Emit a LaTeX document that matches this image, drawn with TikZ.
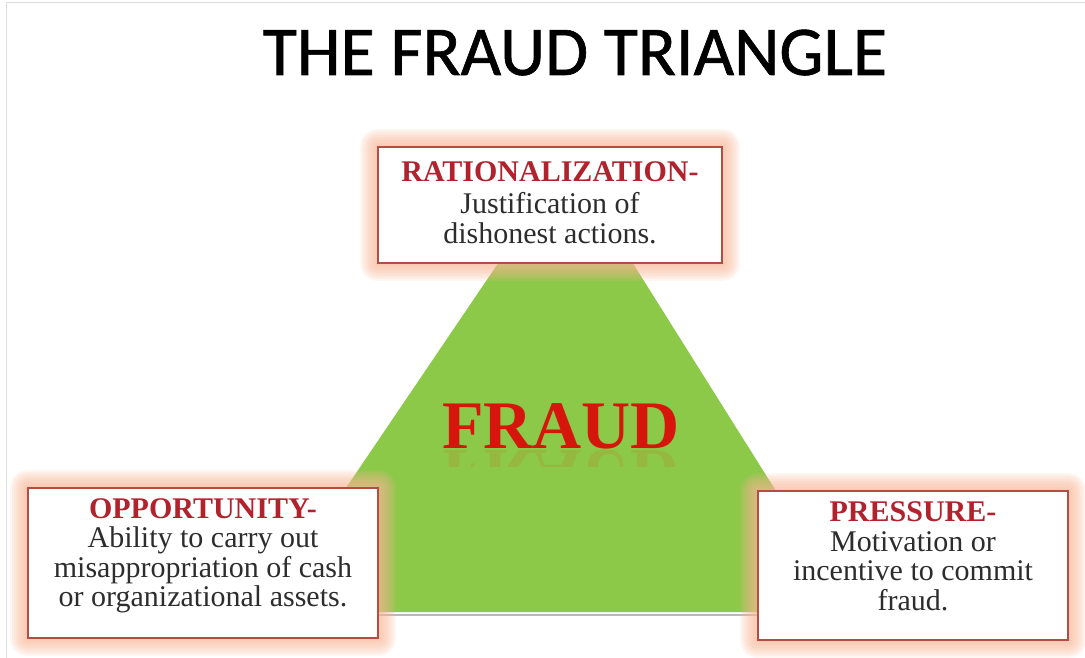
\documentclass[tikz,border=0pt]{standalone}
\usepackage{fontspec}
\setmainfont{Liberation Serif}
\newfontfamily\titlefont[FakeBold=0.9]{Carlito}
\usepackage{tikz}

\definecolor{fraudgreen}{RGB}{140,201,72}
\definecolor{glowpeach}{RGB}{248,182,150}
\definecolor{boxline}{RGB}{180,78,68}
\definecolor{headred}{RGB}{178,34,44}
\definecolor{fraudred}{RGB}{214,22,12}
\definecolor{bodygray}{RGB}{45,45,45}
\definecolor{framegray}{RGB}{222,222,222}

\newcommand{\headtext}[1]{{\color{headred}\bfseries #1}}

\pgfdeclarelayer{background}
\pgfsetlayers{background,main}

\begin{document}
\begin{tikzpicture}[x=1pt, y=1pt,
box_style/.style={draw=boxline, line width=1.6pt, fill=white, align=center, inner sep=0pt,
  font=\fontsize{30}{29.5}\selectfont, text=bodygray},
glow_style/.style={fill=glowpeach, opacity=0.13},
fraud_style/.style={font=\fontsize{68}{68}\selectfont\bfseries, text=fraudred, inner sep=0pt},
title_style/.style={font=\titlefont\fontsize{70}{70}\selectfont, inner sep=0pt}]
\useasboundingbox (0,0) rectangle (1085,-658);
\draw[framegray, line width=1pt] (6,-658) -- (6,-3) -- (1085,-3);

% title
\node[title_style, anchor=base] (title) at (575,-75) {THE FRAUD TRIANGLE};

% the three boxes
\node[box_style, minimum width=344pt, minimum height=116pt, text depth=5pt] (rat) at (550,-205)
  {\headtext{RATIONALIZATION-}\\[3pt] Justification of\\ dishonest actions.};
\node[box_style, minimum width=350pt, minimum height=150pt, text depth=21pt] (opp) at (203,-563)
  {\headtext{OPPORTUNITY-}\\ Ability to carry out\\ misappropriation of cash\\ or organizational assets.};
\node[box_style, minimum width=310pt, minimum height=149pt, text depth=19pt] (pre) at (913,-565.5)
  {\headtext{PRESSURE-}\\ Motivation or\\ incentive to commit\\ fraud.};

% triangle and glow behind the boxes
\coordinate (apex) at (568,-160);
\coordinate (left) at (262,-612);
\coordinate (right) at (852,-612);
\begin{pgfonlayer}{background}
\fill[fraudgreen] (apex) -- (left) -- (right) -- cycle;
\draw[gray!55, line width=2.5pt] ([yshift=-3pt]left) -- ([yshift=-3pt]right);
\foreach \n in {rat,opp,pre}{
  \foreach \g in {17,15,...,1}{
    \fill[glow_style, rounded corners=\g pt] ([shift={(-\g pt,\g pt)}]\n.north west)
      rectangle ([shift={(\g pt,-\g pt)}]\n.south east);
  }
}
\end{pgfonlayer}

% centre word with its reflection
\node[fraud_style, anchor=base] (fraud) at (561,-448) {FRAUD};
\begin{scope}
\clip (420,-449) rectangle (700,-466);
\node[fraud_style, anchor=base, yscale=-1, transform shape, text=fraudred!60!orange, opacity=0.12] (mirror) at (561,-450) {FRAUD};
\end{scope}

\end{tikzpicture}
\end{document}
